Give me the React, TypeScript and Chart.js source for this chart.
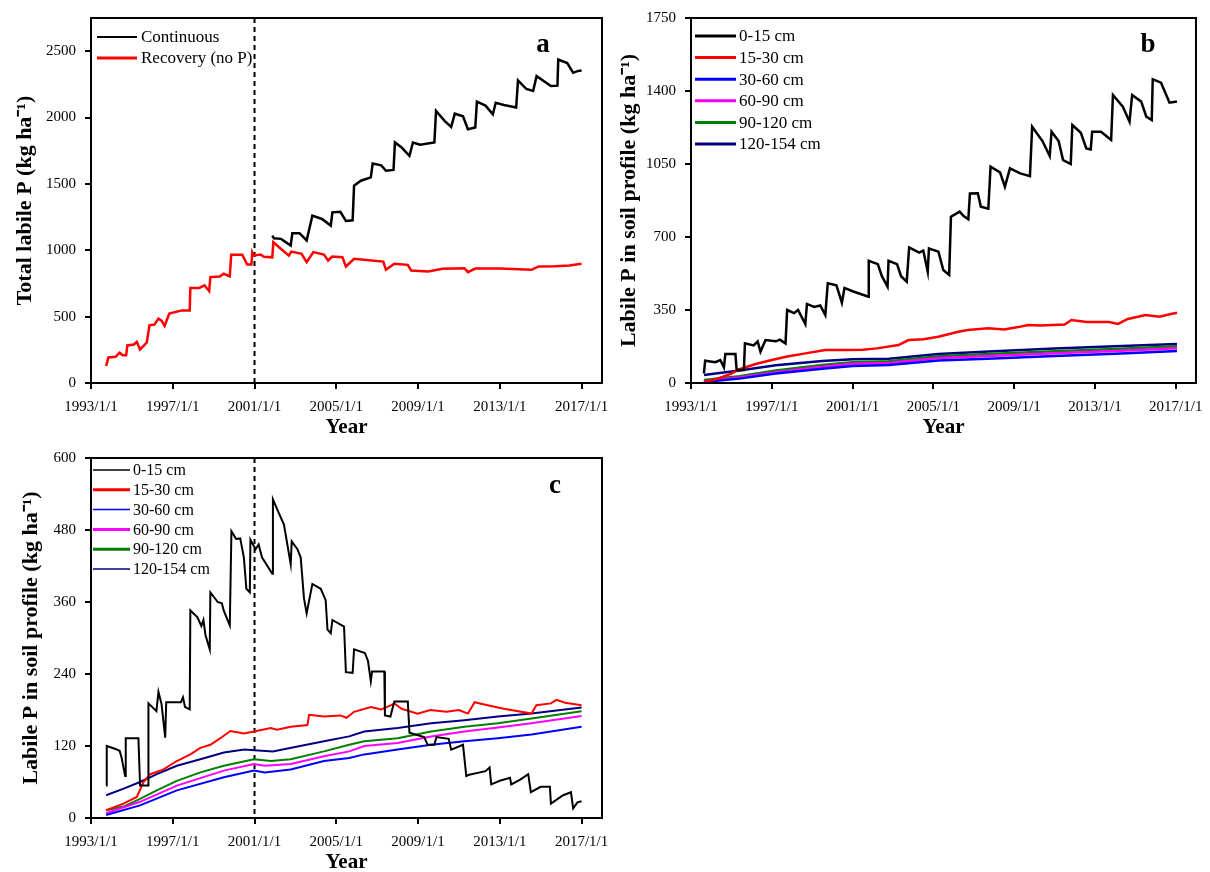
import { useEffect, useRef } from "react";
import { Chart, registerables } from "chart.js";
Chart.register(...registerables);

type Pt = [number, number];

const FONT = '"Liberation Serif", "Times New Roman", Times, serif';
const xTickYears = [1993, 1997, 2001, 2005, 2009, 2013, 2017];
const aYTicks = [0, 500, 1000, 1500, 2000, 2500];
const bYTicks = [0, 350, 700, 1050, 1400, 1750];
const cYTicks = [0, 120, 240, 360, 480, 600];

// ---- Panel a ----
const aContinuous: Pt[] = [
  [2001.87, 1111], [2001.95, 1090], [2002.3, 1086], [2002.77, 1036], [2002.85, 1129], [2003.2, 1129],
  [2003.55, 1074], [2003.83, 1261], [2004.3, 1236], [2004.73, 1186], [2004.81, 1286], [2005.2, 1290],
  [2005.47, 1221], [2005.8, 1226], [2005.87, 1486], [2006.2, 1524], [2006.69, 1549], [2006.78, 1654],
  [2007.2, 1640], [2007.43, 1599], [2007.8, 1605], [2007.87, 1812], [2008.2, 1774], [2008.58, 1712],
  [2008.75, 1812], [2009.1, 1795], [2009.8, 1812], [2009.88, 2050], [2010.3, 1975], [2010.62, 1930],
  [2010.8, 2029], [2011.2, 2010], [2011.44, 1912], [2011.8, 1925], [2011.88, 2120], [2012.3, 2090],
  [2012.66, 2025], [2012.8, 2112], [2013.2, 2095], [2013.8, 2075], [2013.89, 2280], [2014.3, 2215],
  [2014.63, 2200], [2014.8, 2312], [2015.2, 2270], [2015.5, 2237], [2015.82, 2240], [2015.86, 2437],
  [2016.3, 2410], [2016.59, 2337], [2016.8, 2350], [2017.0, 2355],
];
const aRecovery: Pt[] = [
  [1993.74, 128], [1993.85, 193], [1994.2, 197], [1994.4, 228], [1994.55, 210], [1994.72, 210],
  [1994.78, 283], [1995.1, 290], [1995.24, 310], [1995.4, 253], [1995.73, 305], [1995.86, 435],
  [1996.1, 440], [1996.3, 485], [1996.45, 470], [1996.6, 430], [1996.83, 523], [1997.45, 547],
  [1997.83, 547], [1997.86, 716], [1998.3, 716], [1998.55, 736], [1998.78, 693], [1998.84, 798],
  [1999.3, 803], [1999.5, 823], [1999.79, 803], [1999.86, 966], [2000.4, 966], [2000.64, 893],
  [2000.85, 893], [2000.89, 986], [2000.97, 961], [2001.3, 968], [2001.46, 951], [2001.87, 947],
  [2001.92, 1061], [2002.2, 1023], [2002.68, 960], [2002.8, 990], [2003.3, 973], [2003.55, 910],
  [2003.88, 986], [2004.4, 968], [2004.6, 923], [2004.8, 953], [2005.3, 948], [2005.47, 878],
  [2005.87, 936], [2006.6, 925], [2007.3, 915], [2007.43, 853], [2007.84, 898], [2008.5, 890],
  [2008.66, 848], [2009.5, 840], [2010.2, 860], [2011.27, 865], [2011.44, 835], [2011.8, 862],
  [2013.0, 862], [2014.55, 853], [2014.9, 878], [2015.7, 880], [2016.4, 885], [2017.0, 898],
];

// ---- Panel b (continuous) ----
const b0to15: Pt[] = [
  [1993.64, 46], [1993.7, 107], [1994.2, 100], [1994.45, 110], [1994.63, 75], [1994.7, 139],
  [1995.2, 139], [1995.26, 62], [1995.62, 62], [1995.67, 190], [1996.1, 180], [1996.3, 199],
  [1996.44, 150], [1996.69, 206], [1997.2, 200], [1997.4, 208], [1997.68, 190], [1997.76, 350],
  [1998.1, 335], [1998.3, 350], [1998.66, 283], [1998.74, 379], [1999.1, 365], [1999.4, 372],
  [1999.65, 326], [1999.77, 478], [2000.2, 468], [2000.47, 385], [2000.6, 456], [2001.0, 440],
  [2001.79, 414], [2001.8, 586], [2002.25, 570], [2002.45, 512], [2002.73, 462], [2002.78, 586],
  [2003.2, 570], [2003.4, 512], [2003.68, 486], [2003.8, 650], [2004.3, 625], [2004.5, 635],
  [2004.72, 534], [2004.78, 645], [2005.25, 630], [2005.49, 542], [2005.78, 518], [2005.87, 797],
  [2006.3, 822], [2006.5, 800], [2006.73, 785], [2006.81, 909], [2007.2, 910], [2007.35, 845],
  [2007.72, 836], [2007.83, 1037], [2008.3, 1010], [2008.54, 941], [2008.79, 1029], [2009.3, 1005],
  [2009.78, 992], [2009.89, 1229], [2010.4, 1160], [2010.76, 1088], [2010.85, 1205], [2011.2, 1160],
  [2011.42, 1069], [2011.8, 1050], [2011.88, 1237], [2012.3, 1200], [2012.57, 1125], [2012.79, 1120],
  [2012.86, 1205], [2013.3, 1205], [2013.8, 1165], [2013.89, 1381], [2014.38, 1325], [2014.71, 1253],
  [2014.84, 1381], [2015.29, 1349], [2015.54, 1277], [2015.81, 1261], [2015.86, 1456], [2016.27, 1440],
  [2016.69, 1344], [2017.06, 1350],
];
const b15to30: Pt[] = [
  [1993.64, 3], [1994.38, 23], [1995.0, 45], [1995.37, 65], [1996.2, 91], [1997.0, 110], [1997.7, 126],
  [1998.66, 142], [1999.65, 158], [2000.5, 158], [2001.5, 160], [2002.2, 166], [2003.27, 182],
  [2003.77, 206], [2004.5, 210], [2005.25, 222], [2006.23, 246], [2006.7, 254], [2007.72, 262],
  [2008.5, 257], [2009.2, 268], [2009.69, 278], [2010.3, 276], [2011.5, 280], [2011.83, 302],
  [2012.6, 292], [2013.7, 292], [2014.14, 283], [2014.63, 307], [2015.5, 326], [2016.2, 318],
  [2016.7, 330], [2017.06, 337],
];
const b30to60: Pt[] = [
  [1993.64, 5], [1995.4, 21], [1997.2, 45], [1999.5, 68], [2001.0, 82], [2002.8, 86], [2005.25, 108],
  [2008.0, 118], [2011.0, 130], [2014.0, 140], [2017.06, 153],
];
const b60to90: Pt[] = [
  [1993.64, 8], [1995.4, 26], [1997.2, 52], [1999.5, 78], [2001.0, 92], [2002.8, 96], [2005.25, 120],
  [2008.0, 131], [2011.0, 143], [2014.0, 154], [2017.06, 167],
];
const b90to120: Pt[] = [
  [1993.64, 15], [1995.4, 32], [1997.2, 60], [1999.5, 86], [2001.0, 100], [2002.8, 104], [2005.25, 128],
  [2008.0, 140], [2011.0, 152], [2014.0, 163], [2017.06, 176],
];
const b120to154: Pt[] = [
  [1993.64, 38], [1995.4, 60], [1997.2, 85], [1999.5, 105], [2001.0, 114], [2002.8, 116], [2005.25, 139],
  [2008.0, 152], [2011.0, 165], [2014.0, 176], [2017.06, 187],
];

// ---- Panel c (recovery) ----
const c0to15: Pt[] = [
  [1993.74, 54], [1993.77, 120], [1994.2, 115], [1994.4, 112], [1994.5, 100], [1994.67, 70], [1994.7, 133],
  [1995.32, 133], [1995.4, 54], [1995.8, 54], [1995.81, 191], [1996.2, 178], [1996.3, 210], [1996.45, 190],
  [1996.63, 134], [1996.68, 193], [1997.4, 193], [1997.5, 201], [1997.6, 185], [1997.83, 181], [1997.86, 346],
  [1998.2, 335], [1998.4, 320], [1998.5, 330], [1998.6, 305], [1998.81, 281], [1998.84, 376], [1999.2, 360],
  [1999.4, 358], [1999.5, 345], [1999.79, 321], [1999.87, 478], [2000.1, 465], [2000.3, 466], [2000.48, 434],
  [2000.6, 382], [2000.77, 376], [2000.8, 464], [2001.05, 448], [2001.2, 456], [2001.37, 434], [2001.87, 407],
  [2001.9, 531], [2002.19, 508], [2002.44, 489], [2002.77, 423], [2002.82, 461], [2003.1, 448], [2003.26, 434],
  [2003.42, 366], [2003.55, 341], [2003.83, 390], [2004.24, 382], [2004.48, 363], [2004.57, 314], [2004.73, 308],
  [2004.81, 330], [2005.38, 319], [2005.47, 243], [2005.8, 242], [2005.87, 281], [2006.4, 275], [2006.55, 262],
  [2006.69, 228], [2006.75, 244], [2007.35, 244], [2007.38, 171], [2007.65, 169], [2007.84, 194], [2008.5, 194],
  [2008.58, 142], [2009.3, 135], [2009.47, 122], [2009.8, 122], [2009.9, 135], [2010.5, 132], [2010.62, 114],
  [2011.2, 122], [2011.36, 70], [2011.5, 72], [2012.3, 78], [2012.5, 84], [2012.58, 56], [2013.0, 62],
  [2013.5, 67], [2013.56, 56], [2014.0, 64], [2014.39, 73], [2014.52, 43], [2015.0, 52], [2015.45, 52],
  [2015.5, 24], [2016.1, 38], [2016.48, 43], [2016.59, 16], [2016.8, 26], [2017.0, 28],
];
const c15to30: Pt[] = [
  [1993.74, 13], [1994.59, 24], [1995.24, 35], [1995.57, 60], [1995.9, 73], [1996.55, 81], [1997.2, 95],
  [1997.86, 106], [1998.35, 117], [1998.84, 122], [1999.33, 133], [1999.82, 145], [2000.48, 141],
  [2000.97, 144], [2001.79, 150], [2002.1, 147], [2002.77, 152], [2003.59, 155], [2003.67, 172],
  [2004.4, 169], [2005.2, 171], [2005.5, 167], [2005.87, 177], [2006.69, 185], [2007.2, 181],
  [2007.68, 188], [2007.84, 191], [2008.2, 182], [2008.98, 174], [2009.6, 180], [2010.4, 177],
  [2011.0, 180], [2011.44, 174], [2011.77, 193], [2012.4, 188], [2013.2, 182], [2014.55, 174],
  [2014.79, 188], [2015.5, 191], [2015.77, 197], [2016.2, 192], [2017.0, 188],
];
const c30to60: Pt[] = [
  [1993.74, 5], [1995.4, 21], [1997.2, 46], [1999.5, 68], [2000.97, 79], [2001.5, 76], [2002.77, 81],
  [2004.4, 95], [2005.63, 100], [2006.37, 106], [2008.0, 114], [2009.64, 122], [2011.27, 128],
  [2012.91, 133], [2014.55, 139], [2017.0, 152],
];
const c60to90: Pt[] = [
  [1993.74, 8], [1995.4, 27], [1997.2, 54], [1999.5, 79], [2000.97, 90], [2001.5, 87], [2002.77, 90],
  [2004.4, 103], [2005.63, 111], [2006.37, 120], [2008.0, 125], [2009.64, 136], [2011.27, 144],
  [2012.91, 151], [2014.55, 158], [2017.0, 170],
];
const c90to120: Pt[] = [
  [1993.74, 13], [1994.59, 19], [1995.4, 32], [1996.22, 46], [1997.2, 62], [1998.35, 76], [1999.5, 87],
  [2000.97, 98], [2001.8, 95], [2002.77, 98], [2004.4, 111], [2005.63, 122], [2006.37, 128], [2008.0, 133],
  [2009.64, 144], [2011.27, 152], [2012.91, 158], [2014.55, 166], [2017.0, 178],
];
const c120to154: Pt[] = [
  [1993.74, 38], [1994.6, 49], [1995.4, 60], [1996.22, 73], [1997.2, 87], [1998.35, 98], [1999.5, 109],
  [2000.5, 114], [2001.0, 113], [2001.9, 111], [2002.8, 117], [2004.4, 128], [2005.63, 136], [2006.37, 144],
  [2008.0, 150], [2009.64, 158], [2011.27, 163], [2012.91, 169], [2014.55, 174], [2017.0, 184],
];

interface Series { label: string; color: string; width: number; legendWidth: number; points: Pt[] }

interface PanelProps {
  left: number; top: number; w: number; h: number;
  padTop: number; padRight: number; yAxisW: number; xAxisH: number;
  yMax: number; yTicks: number[]; yTitle: string; yTitlePad: number; xTitlePad: number;
  series: Series[];
  dashed: boolean;
  legendX0: number; legendX1: number; legendTextX: number; legendY0: number; legendStep: number; legendSize: number;
  letter: string; letterX: number; letterY: number;
}

function Panel(p: PanelProps) {
  const ref = useRef<HTMLCanvasElement>(null);
  useEffect(() => {
    if (!ref.current) return;
    const decor = {
      id: "decor",
      beforeDatasetsDraw(chart: any) {
        if (!p.dashed) return;
        const { ctx, chartArea } = chart;
        const x = chart.scales.x.getPixelForValue(2001);
        ctx.save();
        ctx.strokeStyle = "#000";
        ctx.lineWidth = 2;
        ctx.setLineDash([5, 4]);
        ctx.beginPath();
        ctx.moveTo(x, chartArea.top);
        ctx.lineTo(x, chartArea.bottom);
        ctx.stroke();
        ctx.restore();
      },
      afterDraw(chart: any) {
        const { ctx, chartArea } = chart;
        ctx.save();
        ctx.strokeStyle = "#000";
        ctx.lineWidth = 2;
        ctx.strokeRect(chartArea.left, chartArea.top, chartArea.right - chartArea.left, chartArea.bottom - chartArea.top);
        // legend
        ctx.font = `${p.legendSize}px ${FONT}`;
        ctx.textBaseline = "middle";
        ctx.textAlign = "left";
        p.series.forEach((s, i) => {
          const y = p.legendY0 + i * p.legendStep;
          ctx.strokeStyle = s.color;
          ctx.lineWidth = s.legendWidth;
          ctx.beginPath();
          ctx.moveTo(p.legendX0, y);
          ctx.lineTo(p.legendX1, y);
          ctx.stroke();
          ctx.fillStyle = "#000";
          ctx.fillText(s.label, p.legendTextX, y + 1);
        });
        ctx.font = `bold 27px ${FONT}`;
        ctx.textAlign = "center";
        ctx.textBaseline = "alphabetic";
        ctx.fillStyle = "#000";
        ctx.fillText(p.letter, p.letterX, p.letterY);
        ctx.restore();
      },
    };
    const chart = new Chart(ref.current, {
      type: "line",
      data: {
        datasets: p.series.map((s) => ({
          label: s.label,
          data: s.points.map(([x, y]) => ({ x, y })),
          borderColor: s.color,
          backgroundColor: s.color,
          borderWidth: s.width,
          pointRadius: 0,
          tension: 0,
          fill: false,
        })),
      },
      options: {
        animation: false,
        responsive: false,
        maintainAspectRatio: false,
        devicePixelRatio: 1,
        layout: { padding: { top: p.padTop, right: p.padRight, left: 0, bottom: 0 } },
        plugins: { legend: { display: false }, tooltip: { enabled: false } },
        scales: {
          x: {
            type: "linear",
            min: 1993,
            max: 2018,
            afterBuildTicks: (s: any) => {
              s.ticks = xTickYears.map((v) => ({ value: v }));
            },
            afterFit: (s: any) => {
              s.height = p.xAxisH;
            },
            ticks: {
              callback: (v: any) => `${v}/1/1`,
              font: { family: FONT, size: 15 },
              color: "#000",
              padding: 9,
              maxRotation: 0,
              autoSkip: false,
            },
            grid: { drawOnChartArea: false, tickLength: 6, color: "#000", lineWidth: 2 },
            border: { color: "#000", width: 2 },
            title: {
              display: true,
              text: "Year",
              color: "#000",
              font: { family: FONT, size: 21, weight: "bold" },
              padding: { top: 0, bottom: p.xTitlePad },
            },
          },
          y: {
            type: "linear",
            min: 0,
            max: p.yMax,
            afterBuildTicks: (s: any) => {
              s.ticks = p.yTicks.map((v) => ({ value: v }));
            },
            afterFit: (s: any) => {
              s.width = p.yAxisW;
            },
            ticks: {
              callback: (v: any) => String(v),
              font: { family: FONT, size: 15 },
              color: "#000",
              padding: 9,
              autoSkip: false,
            },
            grid: { drawOnChartArea: false, tickLength: 6, color: "#000", lineWidth: 2 },
            border: { color: "#000", width: 2 },
            title: {
              display: true,
              text: p.yTitle,
              color: "#000",
              font: { family: FONT, size: 22, weight: "bold" },
              padding: { top: p.yTitlePad, bottom: 0 },
            },
          },
        },
      } as any,
      plugins: [decor],
    });
    return () => chart.destroy();
  }, []);
  return (
    <canvas
      ref={ref}
      width={p.w}
      height={p.h}
      style={{ position: "absolute", left: p.left, top: p.top, width: p.w, height: p.h }}
    />
  );
}

const depthSeriesB: Series[] = [
  { label: "0-15 cm", color: "#000000", width: 2.5, legendWidth: 3, points: b0to15 },
  { label: "15-30 cm", color: "#ff0000", width: 2.5, legendWidth: 3, points: b15to30 },
  { label: "30-60 cm", color: "#0000ff", width: 2.5, legendWidth: 3, points: b30to60 },
  { label: "60-90 cm", color: "#ff00ff", width: 2.5, legendWidth: 3, points: b60to90 },
  { label: "90-120 cm", color: "#008000", width: 2.5, legendWidth: 3, points: b90to120 },
  { label: "120-154 cm", color: "#000080", width: 2.5, legendWidth: 3, points: b120to154 },
];

const depthSeriesC: Series[] = [
  { label: "0-15 cm", color: "#000000", width: 2, legendWidth: 1.5, points: c0to15 },
  { label: "15-30 cm", color: "#ff0000", width: 2, legendWidth: 3, points: c15to30 },
  { label: "30-60 cm", color: "#0000ff", width: 2, legendWidth: 1.5, points: c30to60 },
  { label: "60-90 cm", color: "#ff00ff", width: 2, legendWidth: 3, points: c60to90 },
  { label: "90-120 cm", color: "#008000", width: 2, legendWidth: 3, points: c90to120 },
  { label: "120-154 cm", color: "#000080", width: 2, legendWidth: 1.5, points: c120to154 },
];

const totalSeriesA: Series[] = [
  { label: "Continuous", color: "#000000", width: 2.5, legendWidth: 2, points: aContinuous },
  { label: "Recovery (no P)", color: "#ff0000", width: 2.5, legendWidth: 3, points: aRecovery },
];

export default function App() {
  return (
    <div
      style={{
        position: "fixed",
        left: 0,
        top: 0,
        width: 1210,
        height: 872,
        overflow: "hidden",
        background: "#fff",
      }}
    >
      <Panel
        left={0} top={0} w={620} h={440}
        padTop={17} padRight={18} yAxisW={91} xAxisH={57}
        yMax={2750} yTicks={aYTicks} yTitle="Total labile P (kg ha⁻¹)" yTitlePad={12} xTitlePad={0}
        series={totalSeriesA} dashed={true}
        legendX0={97} legendX1={137} legendTextX={141} legendY0={37} legendStep={21} legendSize={17}
        letter="a" letterX={543} letterY={52}
      />
      <Panel
        left={600} top={0} w={612} h={440}
        padTop={16} padRight={14} yAxisW={91} xAxisH={57}
        yMax={1750} yTicks={bYTicks} yTitle="Labile P in soil profile (kg ha⁻¹)" yTitlePad={16} xTitlePad={0}
        series={depthSeriesB} dashed={false}
        legendX0={95} legendX1={136} legendTextX={139} legendY0={36} legendStep={21.6} legendSize={17}
        letter="b" letterX={548} letterY={52}
      />
      <Panel
        left={0} top={440} w={620} h={440}
        padTop={12} padRight={18} yAxisW={91} xAxisH={62}
        yMax={600} yTicks={cYTicks} yTitle="Labile P in soil profile (kg ha⁻¹)" yTitlePad={18} xTitlePad={4.4}
        series={depthSeriesC} dashed={true}
        legendX0={93} legendX1={130} legendTextX={133} legendY0={30} legendStep={19.8} legendSize={16}
        letter="c" letterX={555} letterY={53}
      />
    </div>
  );
}
